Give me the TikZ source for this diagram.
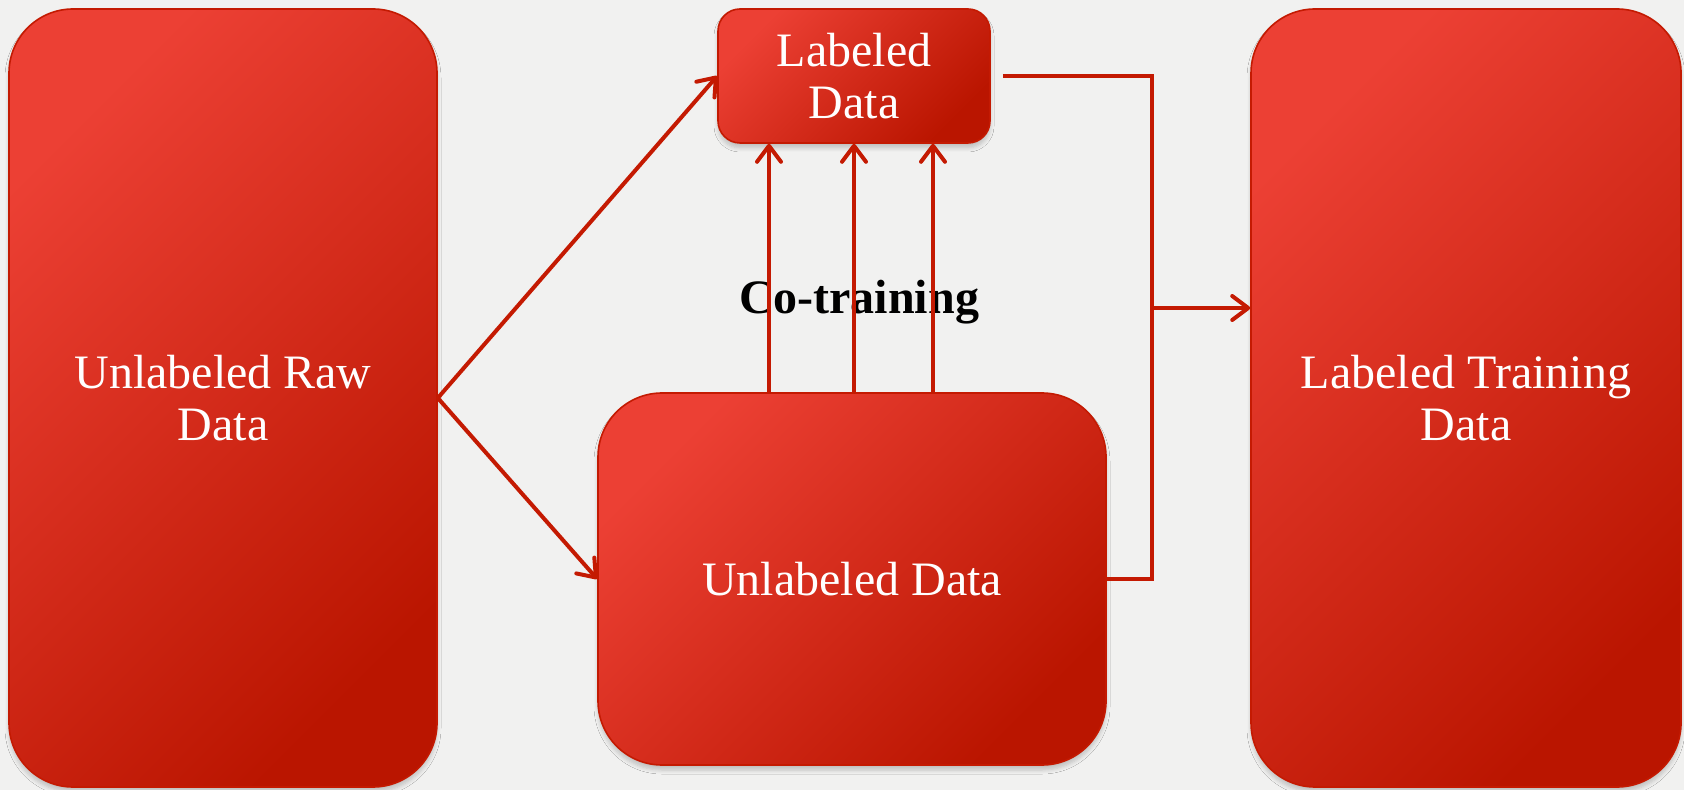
\documentclass[tikz,border=0pt]{standalone}
\usepackage{fontspec}
\setmainfont{Liberation Serif}
\usetikzlibrary{arrows.meta,shadows.blur}

\definecolor{boxlight}{HTML}{EC4034}
\definecolor{boxdark}{HTML}{BA1500}
\definecolor{boxedge}{HTML}{C41A02}
\definecolor{paper}{HTML}{F1F1F0}

\tikzset{
	databox/.style={rounded corners=32pt, draw=boxedge, line width=0.8pt,
		top color=boxlight, bottom color=boxdark, shading angle=45,
		text=white, align=center, inner sep=0pt,
		font=\fontsize{24}{26}\selectfont,
		blur shadow={shadow xshift=0pt, shadow yshift=-2.5pt, shadow opacity=20,
			shadow blur radius=2pt, shadow blur steps=6}},
	flow/.style={draw=boxedge, line width=2pt,
		-{Straight Barb[length=8pt,width=12pt,line width=2pt,round]}},
	flowline/.style={draw=boxedge, line width=2pt}
}

\begin{document}
\begin{tikzpicture}[x=0.5pt,y=-0.5pt]
	\fill[paper] (0,0) rectangle (1684,790);
	\useasboundingbox (0,0) rectangle (1684,790);
		\node[databox, minimum width=214pt, minimum height=389pt] (raw) at (223,398) {Unlabeled Raw\\Data};
		\node[databox, rounded corners=11pt, minimum width=136pt, minimum height=67pt] (lab) at (854,76) {Labeled\\Data};
		\node[databox, minimum width=254pt, minimum height=186pt] (unl) at (852,579) {Unlabeled Data};
		\node[databox, minimum width=215pt, minimum height=389pt] (train) at (1466,398) {Labeled Training\\Data};
		\node[anchor=base, font=\fontsize{24}{26}\selectfont\bfseries] (cot) at (859,314) {Co-training};
		\draw[flow] (raw.east) -- (lab.west);
		\draw[flow] (raw.east) -- (unl.west);
		\foreach \x [count=\i] in {769,854,933}{
			\coordinate (v\i) at (\x,0);
			\draw[flow] (unl.north -| v\i) -- (lab.south -| v\i);
		}
		\coordinate (bus) at (1152,308);
		\draw[flowline] ([xshift=6pt]lab.east) -- (lab.east -| bus) -- (unl.east -| bus) -- (unl.east);
		\draw[flow] (bus) -- (bus -| train.west);
	\end{tikzpicture}
\end{document}
